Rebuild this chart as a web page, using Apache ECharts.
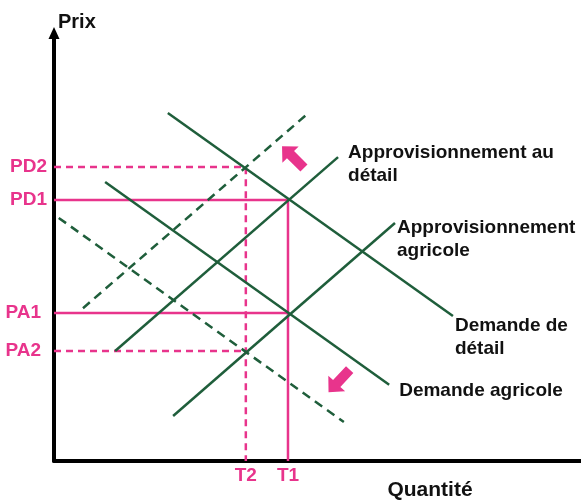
<!DOCTYPE html>
<html>
<head>
<meta charset="utf-8">
<script src="https://cdn.jsdelivr.net/npm/echarts@6/dist/echarts.min.js"></script>
<style>
  html, body { margin: 0; padding: 0; background: #fff; }
  #chart { width: 581px; height: 501px; }
</style>
</head>
<body>
<div id="chart"></div>
<script>
// Quantités et prix d'équilibre (échelle 0-100 sur chaque axe)
const qtyNames = ['T2', 'T1'];
const qtyValues = [36.4, 44.4];
const priceNames = ['PA2', 'PA1', 'PD1', 'PD2'];
const priceValues = [25.7, 34.6, 61.0, 68.7];

// Courbes (début, fin)
const demandeDetail = [[21.6, 81.3], [75.7, 33.9]];
const demandeAgricole = [[9.7, 65.2], [63.6, 17.8]];
const demandeAgricole2 = [[0.9, 56.8], [55.0, 9.1]];
const approDetail = [[11.6, 25.7], [53.9, 71.0]];
const approAgricole = [[22.6, 10.5], [64.7, 55.6]];
const approDetail2 = [[5.5, 35.7], [47.8, 80.8]];

// Flèches de déplacement : x, y, rotation
const shiftArrows = [[45.35, 71.0, 45], [54.1, 18.7, 137]];

const green = '#1f5e3b';
const pink = '#e8348c';
const font = 'Liberation Sans';

const T2 = qtyValues[0], T1 = qtyValues[1];
const PA2 = priceValues[0], PA1 = priceValues[1], PD1 = priceValues[2], PD2 = priceValues[3];

function curve(points, text, offset, dashed) {
  return {
    type: 'line',
    symbol: 'none',
    showSymbol: true,
    silent: true,
    lineStyle: { color: green, width: 2.5, type: dashed ? [9, 6] : 'solid' },
    data: [
      points[0],
      text ? {
        value: points[1],
        symbol: 'circle',
        symbolSize: 0,
        label: {
          show: true,
          position: offset,
          formatter: text,
          color: '#111',
          fontFamily: font,
          fontWeight: 'bold',
          fontSize: 19,
          lineHeight: 23
        }
      } : points[1]
    ]
  };
}

function guide(points, dashed) {
  return {
    type: 'line',
    symbol: 'none',
    silent: true,
    lineStyle: { color: pink, width: 2.5, type: dashed ? [7, 5] : 'solid' },
    data: points
  };
}

let myChart = echarts.init(document.getElementById('chart'));
myChart.setOption({
  animation: false,
  grid: { left: 54, right: 0, top: 33, bottom: 40, outerBoundsMode: 'none', containLabel: false },
  xAxis: {
    type: 'value',
    min: 0,
    max: 100,
    name: 'Quantité',
    nameLocation: 'middle',
    nameGap: 19,
    nameMoveOverlap: false,
    nameTextStyle: {
      color: '#111', fontFamily: font, fontWeight: 'bold', fontSize: 21,
      padding: [0, 0, 0, 225]
    },
    splitLine: { show: false },
    axisTick: { show: false },
    axisLine: { lineStyle: { color: '#000', width: 4 } },
    axisLabel: {
      customValues: qtyValues,
      formatter: v => qtyNames[qtyValues.indexOf(v)],
      color: pink, fontFamily: font, fontWeight: 'bold', fontSize: 19,
      margin: 5
    }
  },
  yAxis: {
    type: 'value',
    min: 0,
    max: 100,
    name: 'Prix',
    nameLocation: 'end',
    nameGap: 1,
    nameTextStyle: {
      color: '#111', fontFamily: font, fontWeight: 'bold', fontSize: 20,
      align: 'left', verticalAlign: 'bottom', padding: [0, 0, 0, 4]
    },
    splitLine: { show: false },
    axisTick: { show: false },
    axisLine: {
      symbol: ['none', 'triangle'],
      symbolSize: [11, 12],
      lineStyle: { color: '#000', width: 4 }
    },
    axisLabel: {
      customValues: priceValues,
      formatter: v => {
        let n = priceNames[priceValues.indexOf(v)];
        return n.indexOf('PA') === 0 ? '{pa|' + n + '}' : '{pd|' + n + '}';
      },
      margin: 7,
      rich: {
        pa: { color: pink, fontFamily: font, fontWeight: 'bold', fontSize: 19, padding: [0, 6, 0, 0] },
        pd: { color: pink, fontFamily: font, fontWeight: 'bold', fontSize: 19 }
      }
    }
  },
  series: [
    guide([[0, PD2], [T2, PD2], [T2, 0]], true),
    guide([[0, PA2], [T2, PA2]], true),
    guide([[0, PD1], [T1, PD1], [T1, 0]], false),
    guide([[0, PA1], [T1, PA1]], false),
    curve(demandeDetail, 'Demande de\ndétail', [2, -2], false),
    curve(demandeAgricole, 'Demande agricole', [10, -6], false),
    curve(demandeAgricole2, null, null, true),
    curve(approDetail, 'Approvisionnement au\ndétail', [10, -16], false),
    curve(approAgricole, 'Approvisionnement\nagricole', [2, -7], false),
    curve(approDetail2, null, null, true),
    {
      type: 'scatter',
      silent: true,
      symbol: 'path://M11.5,0 L23,12 L16.5,12 L16.5,31 L6.5,31 L6.5,12 L0,12 Z',
      symbolSize: [23, 31],
      symbolRotate: p => p[2],
      itemStyle: { color: pink, opacity: 1 },
      data: shiftArrows
    }
  ]
});
window.addEventListener('resize', () => {
  myChart.resize();
});
</script>
</body>
</html>
